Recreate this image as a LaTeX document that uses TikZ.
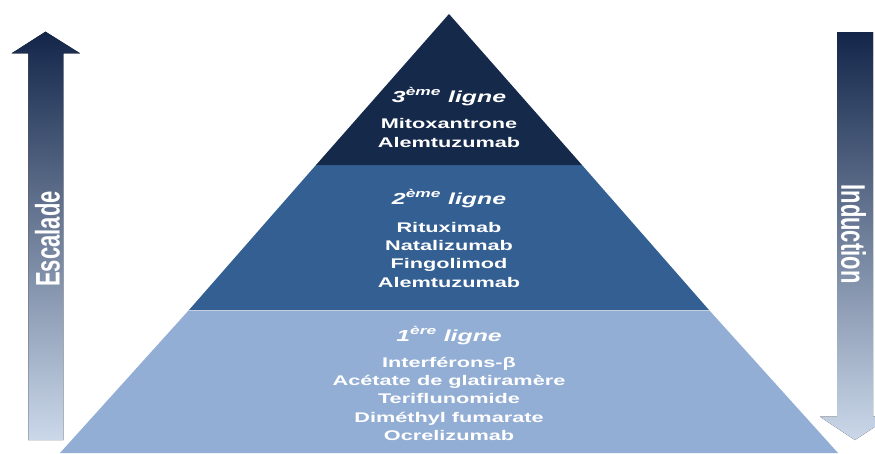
\documentclass[tikz,border=0pt]{standalone}
\usepackage{fontspec}
\setmainfont{Liberation Sans}
\usepackage{graphicx}
\definecolor{lvlthree}{HTML}{15294B}
\definecolor{lvltwo}{HTML}{345F92}
\definecolor{lvlone}{HTML}{92AED4}
\definecolor{arrowtop}{HTML}{13264A}
\definecolor{arrowmid}{HTML}{2E5282}
\definecolor{arrowbot}{HTML}{CBD8EA}
\newcommand{\hs}[1]{\scalebox{1.55}[1]{#1}}
\tikzset{
  head/.style={anchor=base, text=white, font=\fontsize{16}{18}\selectfont\bfseries\itshape, inner sep=0pt},
  drug/.style={anchor=base, text=white, font=\fontsize{14}{16}\selectfont\bfseries, inner sep=0pt},
  arrowlabel/.style={text=white, font=\fontsize{22}{24}\selectfont\bfseries, inner sep=0pt},
  gradarrow/.style={top color=arrowtop, middle color=arrowmid, bottom color=arrowbot, draw=none}
}
\begin{document}
\begin{tikzpicture}[x=1pt,y=-1pt]
\useasboundingbox (0,0) rectangle (875,453);
\fill[white] (0,0) rectangle (875,453);
\begin{scope}
\clip (0,0) rectangle (875,453);
% pyramid levels
\fill[lvlone] (189,310) -- (709,310) -- (838,453) -- (60,453) -- cycle;
\fill[lvltwo] (316,165) -- (582,165) -- (709,310) -- (189,310) -- cycle;
\fill[lvlthree] (449,14) -- (582,165) -- (316,165) -- cycle;
\draw[white!70!lvltwo, line width=0.6pt] (189,310.3) -- (709,310.3);
% arrows
\fill[gradarrow] (28.3,440) -- (28.3,53.3) -- (11.7,53.3) -- (45.5,31.7) -- (80,53.3) -- (63.3,53.3) -- (63.3,440) -- cycle;
\fill[gradarrow] (837,32) -- (873,32) -- (873,416.7) -- (890,416.7) -- (855,440) -- (820,416.7) -- (837,416.7) -- cycle;
\end{scope}
\node[arrowlabel, rotate=90] (esc) at (47.5,239) {\scalebox{1}[1.55]{Escalade}};
\node[arrowlabel, rotate=-90] (ind) at (853.5,234) {\scalebox{1}[1.55]{Induction}};
% level 3
\node[head] (h3) at (449,102) {\hs{3\textsuperscript{ème} ligne}};
\node[drug] (d31) at (449,128.5) {\hs{Mitoxantrone}};
\node[drug] (d32) at (449,147) {\hs{Alemtuzumab}};
% level 2
\node[head] (h2) at (449,204) {\hs{2\textsuperscript{ème} ligne}};
\node[drug] (d21) at (449,232) {\hs{Rituximab}};
\node[drug] (d22) at (449,250.4) {\hs{Natalizumab}};
\node[drug] (d23) at (449,268.8) {\hs{Fingolimod}};
\node[drug] (d24) at (449,287.2) {\hs{Alemtuzumab}};
% level 1
\node[head] (h1) at (449,341) {\hs{1\textsuperscript{ère} ligne}};
\node[drug] (d11) at (449,367) {\hs{Interférons-β}};
\node[drug] (d12) at (449,385.3) {\hs{Acétate de glatiramère}};
\node[drug] (d13) at (449,403.7) {\hs{Teriflunomide}};
\node[drug] (d14) at (449,422) {\hs{Diméthyl fumarate}};
\node[drug] (d15) at (449,440.3) {\hs{Ocrelizumab}};
\end{tikzpicture}
\end{document}
